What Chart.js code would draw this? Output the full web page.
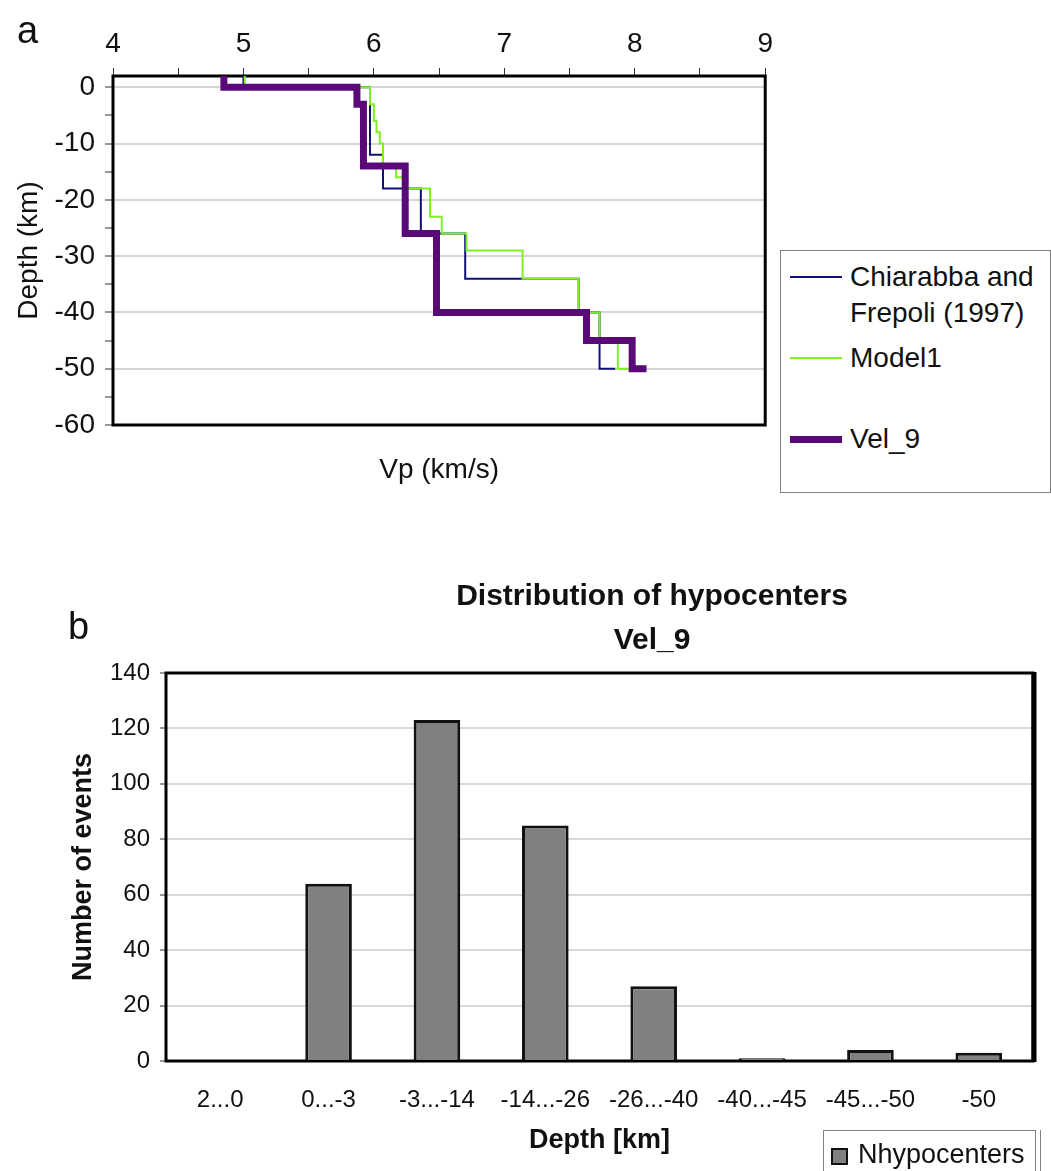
<!DOCTYPE html>
<html>
<head>
<meta charset="utf-8">
<title>Vp models and hypocenter distribution</title>
<script src="https://cdn.jsdelivr.net/npm/chart.js@4.4.1/dist/chart.umd.min.js"></script>
<style>
  html, body { margin: 0; padding: 0; background: #fff; }
  body {
    width: 1051px; height: 1171px; position: relative; overflow: hidden;
    font-family: 'Liberation Sans', Arial, sans-serif; color: #111;
  }
  .abs { position: absolute; }
  #chartA { position: absolute; left: 0; top: 0; }
  #chartB { position: absolute; left: 0; top: 560px; }
  .panel { font-size: 38px; line-height: 38px; }
  #titleB {
    left: 452px; top: 573px; width: 400px; text-align: center;
    font-weight: bold; font-size: 30px; line-height: 44px;
  }
  #legendA {
    left: 780px; top: 250px; width: 271px; height: 243px;
    border: 1px solid #808080; box-sizing: border-box; background: #fff;
  }
  #legendA .swatch { position: absolute; left: 9px; width: 52px; }
  #legendA .label { position: absolute; left: 69px; font-size: 28px; line-height: 36px; white-space: nowrap; }
  #legendB {
    left: 823px; top: 1130px; width: 213px; height: 60px;
    border: 1px solid #808080; box-sizing: border-box; background: #fff;
  }
  #legendB .box {
    position: absolute; left: 7px; top: 17px; width: 13px; height: 13px;
    border: 2px solid #111; background: #808080;
  }
  #legendB .label { position: absolute; left: 34px; top: 7px; font-size: 27px; line-height: 32px; }
  #legendB2 { left: 1040px; top: 1130px; width: 1px; height: 41px; background: #808080; }
</style>
</head>
<body>
<canvas id="chartA" width="780" height="500"></canvas>
<canvas id="chartB" width="1051" height="611"></canvas>

<div class="abs panel" style="left:17px; top:11px;">a</div>
<div class="abs panel" style="left:68px; top:607px;">b</div>
<div class="abs" id="titleB">Distribution of hypocenters<br>Vel_9</div>
<div class="abs" id="legendA"></div>
<div class="abs" id="legendB"><div class="box"></div><div class="label"></div></div>
<div class="abs" id="legendB2"></div>

<script>
// ---- panel a: 1D P-velocity models ----
// each model: depth of layer tops (km) and Vp of that layer (km/s);
// the last Vp is the half-space value drawn as a short tail at the last depth
const chiarabbaDepth = [2, 0, -12, -18, -26, -34, -40, -50];
const chiarabbaVp = [5.0, 5.97, 6.07, 6.36, 6.70, 7.57, 7.73, 7.85];

const model1Depth = [2, 0, -3, -6, -8, -10, -14, -16, -18, -23, -26, -29, -34, -40, -45, -50];
const model1Vp = [5.01, 5.97, 6.0, 6.02, 6.045, 6.07, 6.17, 6.23, 6.43, 6.52, 6.71, 7.14, 7.57, 7.73, 7.87, 7.96];

const vel9Depth = [2, 0, -3, -14, -26, -40, -45, -50];
const vel9Vp = [4.85, 5.87, 5.92, 6.24, 6.48, 7.63, 7.98, 8.09];

const vpTickLabels = [4, 5, 6, 7, 8, 9];
const depthTickLabels = [0, -10, -20, -30, -40, -50, -60];

const seriesNames = ['Chiarabba and\nFrepoli (1997)', 'Model1', 'Vel_9'];
const seriesColors = ['#10107a', '#7cf21e', '#5a0a78'];
const seriesWidths = [2, 2, 7];

// ---- panel b: histogram of hypocenter depths ----
const depthBins = ['2...0', '0...-3', '-3...-14', '-14...-26', '-26...-40', '-40...-45', '-45...-50', '-50'];
const nHypocenters = [0, 64, 123, 85, 27, 1, 4, 3];
const countTickLabels = [0, 20, 40, 60, 80, 100, 120, 140];

Chart.defaults.font.family = "'Liberation Sans', Arial, sans-serif";
Chart.defaults.color = '#111';

// turn layer tops + velocities into step-line points
function stepPoints(depths, vps) {
  const pts = [];
  for (let i = 0; i < vps.length; i++) {
    pts.push({ x: vps[i], y: depths[i] });
    if (i < vps.length - 1) pts.push({ x: vps[i], y: depths[i + 1] });
  }
  return pts;
}

// black frame around the plot area (Excel style)
const framePlugin = {
  id: 'frame',
  beforeDatasetsDraw(chart, args, opts) {
    const { ctx, chartArea: a } = chart;
    ctx.save();
    ctx.strokeStyle = '#000';
    ctx.lineWidth = opts.width || 3;
    ctx.strokeRect(a.left, a.top, a.right - a.left, a.bottom - a.top);
    if (opts.rightWidth) {
      ctx.lineWidth = opts.rightWidth;
      ctx.beginPath();
      ctx.moveTo(a.right + 1, a.top - 1);
      ctx.lineTo(a.right + 1, a.bottom + 1);
      ctx.stroke();
    }
    ctx.restore();
  }
};

const modelData = [
  stepPoints(chiarabbaDepth, chiarabbaVp),
  stepPoints(model1Depth, model1Vp),
  stepPoints(vel9Depth, vel9Vp)
];

new Chart(document.getElementById('chartA'), {
  type: 'scatter',
  data: {
    datasets: modelData.map((pts, i) => ({
      label: seriesNames[i],
      data: pts,
      showLine: true,
      borderColor: seriesColors[i],
      borderWidth: seriesWidths[i],
      borderJoinStyle: 'miter',
      borderCapStyle: 'butt',
      pointRadius: 0,
      tension: 0,
      order: 3 - i
    }))
  },
  options: {
    responsive: false,
    animation: false,
    layout: { padding: { left: 0, right: 11, top: 0, bottom: 0 } },
    plugins: {
      legend: { display: false },
      tooltip: { enabled: false },
      frame: { width: 3 }
    },
    scales: {
      x: {
        type: 'linear',
        position: 'top',
        min: vpTickLabels[0],
        max: vpTickLabels[vpTickLabels.length - 1],
        ticks: {
          stepSize: 0.5,
          font: { size: 28 },
          padding: 7,
          maxRotation: 0,
          autoSkip: false,
          callback: v => vpTickLabels.includes(v) ? String(v) : ''
        },
        grid: { drawOnChartArea: false, tickLength: 8, tickColor: '#333', tickWidth: 1 },
        border: { display: false },
        afterFit: s => { s.height = 76; }
      },
      x2: {
        type: 'linear',
        position: 'bottom',
        min: vpTickLabels[0],
        max: vpTickLabels[vpTickLabels.length - 1],
        ticks: { display: false },
        grid: { display: false, drawTicks: false },
        border: { display: false },
        title: {
          display: true,
          text: 'Vp (km/s)',
          font: { size: 28 },
          padding: { top: 0, bottom: 13 }
        },
        afterFit: s => { s.height = 75; }
      },
      y: {
        type: 'linear',
        min: depthTickLabels[depthTickLabels.length - 1],
        max: vel9Depth[0],
        ticks: {
          stepSize: 5,
          includeBounds: false,
          font: { size: 28 },
          padding: 10,
          autoSkip: false,
          callback: v => depthTickLabels.includes(v) ? String(v) : ''
        },
        grid: {
          color: c => (c.tick && depthTickLabels.includes(c.tick.value)) ? '#d6d6d6' : 'rgba(0,0,0,0)',
          lineWidth: 2,
          tickLength: 8,
          tickColor: '#333',
          tickWidth: 1
        },
        border: { display: false },
        title: {
          display: true,
          text: 'Depth (km)',
          font: { size: 28 },
          padding: { top: 12, bottom: 0 }
        },
        afterFit: s => { s.width = 113; }
      }
    }
  },
  plugins: [framePlugin]
});

// legend for panel a, built from the series lists
const legendA = document.getElementById('legendA');
const legendRows = [26, 107, 188];
seriesNames.forEach((name, i) => {
  const sw = document.createElement('div');
  sw.className = 'swatch';
  sw.style.top = (legendRows[i] - seriesWidths[i] / 2) + 'px';
  sw.style.height = seriesWidths[i] + 'px';
  sw.style.background = seriesColors[i];
  legendA.appendChild(sw);
  const lb = document.createElement('div');
  lb.className = 'label';
  lb.style.top = (legendRows[i] - 18) + 'px';
  lb.innerHTML = name.replace('\n', '<br>');
  legendA.appendChild(lb);
});

new Chart(document.getElementById('chartB'), {
  type: 'bar',
  data: {
    labels: depthBins,
    datasets: [{
      label: 'Nhypocenters',
      data: nHypocenters,
      backgroundColor: '#808080',
      borderColor: '#111',
      borderWidth: 3,
      borderSkipped: 'bottom',
      categoryPercentage: 1,
      barPercentage: 0.43
    }]
  },
  options: {
    responsive: false,
    animation: false,
    layout: { padding: { left: 0, right: 18, top: 113, bottom: 0 } },
    plugins: {
      legend: { display: false },
      tooltip: { enabled: false },
      frame: { width: 3, rightWidth: 5 }
    },
    scales: {
      x: {
        ticks: { font: { size: 24 }, padding: 25, maxRotation: 0, autoSkip: false },
        grid: { display: false, drawTicks: false },
        border: { display: false },
        title: {
          display: true,
          text: 'Depth [km]',
          font: { size: 27, weight: 'bold' },
          padding: { top: 0, bottom: 14 }
        },
        afterFit: s => { s.height = 110; }
      },
      y: {
        min: countTickLabels[0],
        max: countTickLabels[countTickLabels.length - 1],
        ticks: { stepSize: 20, font: { size: 24 }, padding: 10 },
        grid: { color: '#d9d9d9', lineWidth: 2, tickLength: 6, tickColor: '#333', tickWidth: 1 },
        border: { display: false },
        title: {
          display: true,
          text: 'Number of events',
          font: { size: 27, weight: 'bold' },
          padding: { top: 67, bottom: 0 }
        },
        afterFit: s => { s.width = 166; }
      }
    }
  },
  plugins: [framePlugin]
});

document.querySelector('#legendB .label').textContent = 'Nhypocenters';
</script>
</body>
</html>
